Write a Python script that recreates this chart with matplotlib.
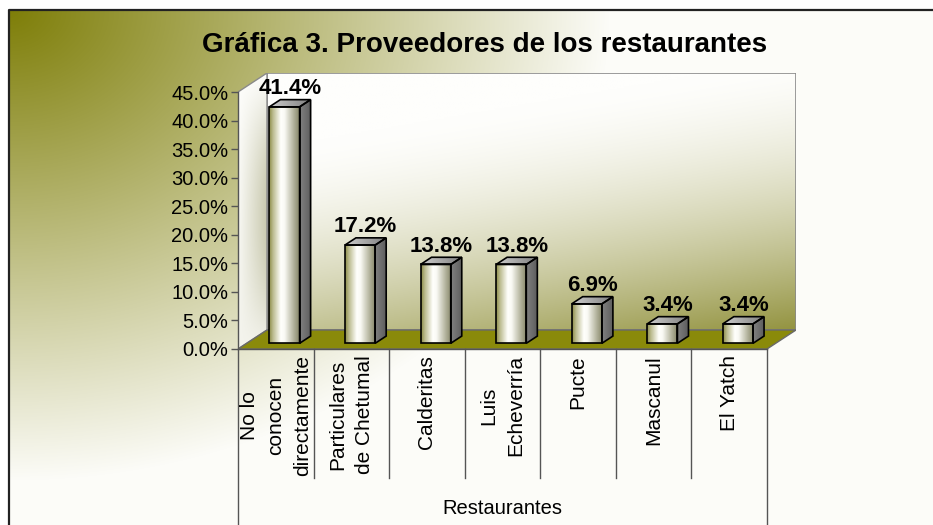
import numpy as np
import matplotlib
matplotlib.use("Agg")
import matplotlib.pyplot as plt
from matplotlib.patches import Polygon, Rectangle
from matplotlib.transforms import blended_transform_factory

# ---------------- data ----------------
categories = ["No lo\nconocen\ndirectamente", "Particulares\nde Chetumal", "Calderitas",
              "Luis\nEcheverría", "Pucte", "Mascanul", "El Yatch"]
values = [41.4, 17.2, 13.8, 13.8, 6.9, 3.4, 3.4]
y_ticks = [0, 5, 10, 15, 20, 25, 30, 35, 40, 45]
y_tick_labels = ["0.0%", "5.0%", "10.0%", "15.0%", "20.0%", "25.0%", "30.0%", "35.0%", "40.0%", "45.0%"]
title = "Gráfica 3. Proveedores de los restaurantes"
x_title = "Restaurantes"

plt.rcParams['font.family'] = ['Liberation Sans', 'DejaVu Sans']

W, H = 933, 525
fig = plt.figure(figsize=(W / 100, H / 100), dpi=100)

# ---------------- figure background (gradient + frame) ----------------
bg = fig.add_axes([0, 0, 1, 1])
bg.set_xlim(0, W)
bg.set_ylim(H, 0)
bg.axis('off')
yy, xx = np.mgrid[0:H, 0:W].astype(float)
t = np.clip(np.sqrt(((xx - 9) / 600) ** 2 + ((yy - 10) / 470) ** 2), 0, 1)
olive = np.array([126, 126, 8]) / 255
light = np.array([252, 252, 248]) / 255
img = olive * (1 - t[..., None]) + light * t[..., None]
img[:10, :] = 1
img[:, :9] = 1
bg.imshow(img, extent=(0, W, H, 0), aspect='auto', interpolation='bilinear')
bg.plot([9, 9, W + 5], [H + 5, 10, 10], color='#222222', lw=1.6)
bg.set_xlim(0, W)
bg.set_ylim(H, 0)

# ---------------- 3D plot geometry ----------------
n = len(categories)
ymax = y_ticks[-1]
fx0, fx1, fy0, fy1 = 238, 767, 349, 92     # front plane in pixels
dpx, dpy = 29, 19                            # depth offset in pixels
ddx = dpx / ((fx1 - fx0) / n)
ddy = dpy / ((fy0 - fy1) / ymax)

ax = fig.add_axes([fx0 / W, (H - fy0) / H, (fx1 + dpx - fx0) / W, (fy0 - fy1 + dpy) / H])
ax.patch.set_visible(False)
for s in ax.spines.values():
    s.set_visible(False)

# back wall
wy, wx = np.mgrid[0:1:200j, 0:1:300j]
m = np.clip(0.85 * wy + 0.3 * wx - 0.25, 0, 1) ** 1.6
wall_olive = np.array([128, 128, 30]) / 255
wall_light = np.array([254, 254, 252]) / 255
wall = wall_light * (1 - m[..., None]) + wall_olive * m[..., None]
ax.imshow(wall, extent=(ddx, n + ddx, ddy, ymax + ddy), aspect='auto', zorder=0.5,
          interpolation='bilinear')
ax.add_patch(Rectangle((ddx, ddy), n, ymax, facecolor='none', edgecolor='#8a8a8a', lw=1.2, zorder=0.6))

# side wall
side_poly = Polygon([(0, 0), (ddx, ddy), (ddx, ymax + ddy), (0, ymax)], closed=True,
                    facecolor='none', edgecolor='#8a8a8a', lw=1.0, zorder=0.8)
ax.add_patch(side_poly)
sy, sx = np.mgrid[0:1:100j, 0:1:50j]
sm = np.clip(0.45 * sx * np.sin(np.pi * sy) + 0.1 * sy, 0, 1)
side = wall_light * (1 - sm[..., None]) + np.array([150, 150, 100]) / 255 * sm[..., None]
im = ax.imshow(side, extent=(0, ddx, 0, ymax + ddy), aspect='auto', zorder=0.7, interpolation='bilinear')
im.set_clip_path(side_poly)

# floor
ax.add_patch(Polygon([(0, 0), (n, 0), (n + ddx, ddy), (ddx, ddy)], closed=True,
                     facecolor='#8a8a0a', edgecolor='#6a6a6a', lw=1.0, zorder=1))

# y axis
ax.plot([0, 0], [0, ymax], color='#555555', lw=1.0, clip_on=False, zorder=2)
ax.plot([0, n], [0, 0], color='#555555', lw=1.0, clip_on=False, zorder=2)
ax.set_yticks(y_ticks, y_tick_labels)
ax.set_xticks([])
ax.tick_params(axis='y', length=5, width=1, color='#555555', labelsize=14.5, pad=2)

# bar gradients
stops = np.array([0.0, 0.12, 0.38, 0.5, 0.75, 1.0])
cols = np.array([[140, 140, 70], [185, 185, 140], [255, 255, 252], [250, 250, 245],
                 [190, 190, 170], [130, 130, 100]]) / 255
gx = np.linspace(0, 1, 120)
front_grad = np.stack([np.interp(gx, stops, cols[:, k]) for k in range(3)], axis=-1)[None, :, :]
side_grad = np.stack([np.linspace(0.50, 0.36, 30)] * 3, axis=-1)[None, :, :]
top_grad = np.stack([np.linspace(0.80, 0.50, 60)] * 3, axis=-1)[None, :, :]

bw = 0.40
f1, f2 = 0.30, 0.68
for i, v in enumerate(values):
    x0 = i + 0.5 - bw / 2 + f1 * ddx
    y0 = f1 * ddy
    x1 = x0 + bw
    sdx = (f2 - f1) * ddx
    sdy = (f2 - f1) * ddy
    # front
    ax.imshow(front_grad, extent=(x0, x1, y0, y0 + v), aspect='auto', zorder=3, interpolation='bilinear')
    ax.add_patch(Rectangle((x0, y0), bw, v, facecolor='none', edgecolor='black', lw=1.2, zorder=4))
    # side
    sp = Polygon([(x1, y0), (x1 + sdx, y0 + sdy), (x1 + sdx, y0 + sdy + v), (x1, y0 + v)], closed=True,
                 facecolor='none', edgecolor='black', lw=1.2, zorder=4)
    ax.add_patch(sp)
    si = ax.imshow(side_grad, extent=(x1, x1 + sdx, y0, y0 + sdy + v), aspect='auto', zorder=3,
                   interpolation='bilinear')
    si.set_clip_path(sp)
    # top
    tp = Polygon([(x0, y0 + v), (x1, y0 + v), (x1 + sdx, y0 + v + sdy), (x0 + sdx, y0 + v + sdy)],
                 closed=True, facecolor='none', edgecolor='black', lw=1.2, zorder=4)
    ax.add_patch(tp)
    ti = ax.imshow(top_grad, extent=(x0, x1 + sdx, y0 + v, y0 + v + sdy), aspect='auto', zorder=3,
                   interpolation='bilinear')
    ti.set_clip_path(tp)
    # label
    ax.annotate(f"{v:.1f}%", xy=(i + 0.5 + (f1 + f2) / 2 * ddx, v + f2 * ddy), xytext=(0, 4),
                textcoords='offset points', ha='center', va='baseline', fontsize=16,
                fontweight='bold', annotation_clip=False, zorder=5)

ax.set_xlim(0, n + ddx)
ax.set_ylim(0, ymax + ddy)

# category table
ax_h = fy0 - fy1 + dpy
trans = blended_transform_factory(ax.transData, ax.transAxes)
for k in range(n + 1):
    bottom = -(478 - fy0) / ax_h if 0 < k < n else -(540 - fy0) / ax_h
    ax.plot([k, k], [0, bottom], transform=trans, color='#555555', lw=1.0, clip_on=False)
for i, c in enumerate(categories):
    ax.text(i + 0.5, -6 / ax_h, c, transform=trans, rotation=90, ha='center', va='top',
            multialignment='center', fontsize=15, linespacing=1.5)
ax.text(n / 2, -(508 - fy0) / ax_h, x_title, transform=trans, ha='center', va='center', fontsize=14.5)

fig.text(485 / W, 1 - 45 / H, title, ha='center', va='center', fontsize=20, fontweight='bold')

fig.savefig('out.png', dpi=100)
